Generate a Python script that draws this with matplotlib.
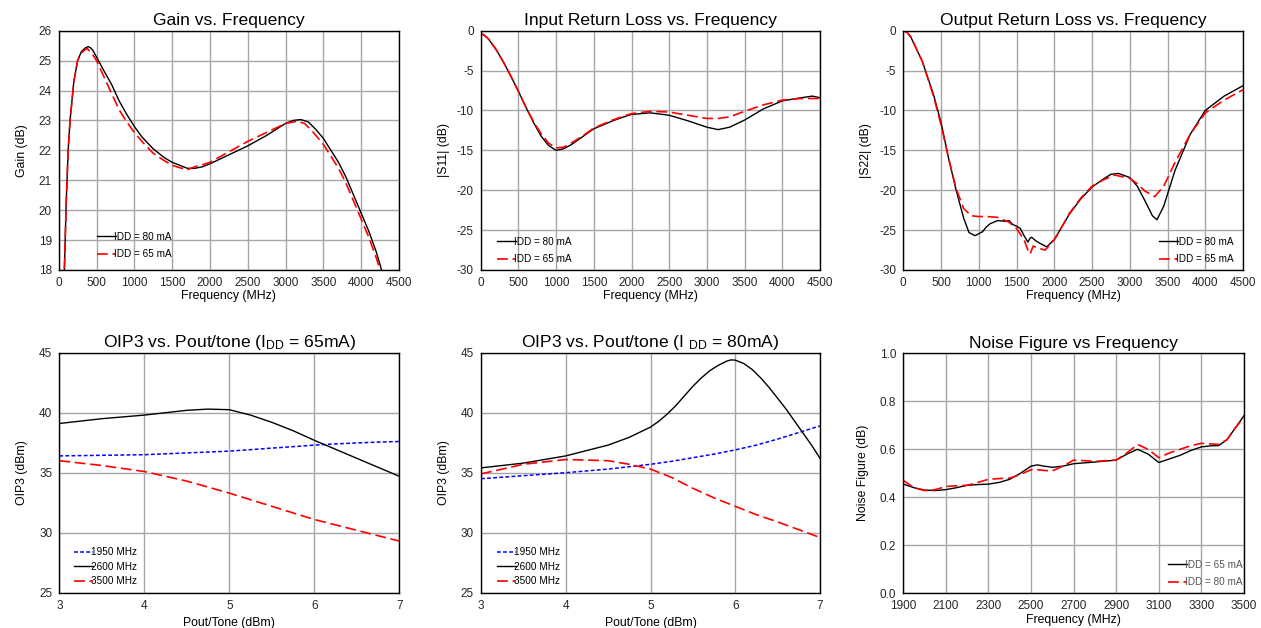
import matplotlib
matplotlib.use("Agg")
import matplotlib.pyplot as plt
import matplotlib.ticker as mticker

plt.rcParams['font.family'] = ['Liberation Sans', 'DejaVu Sans']
plt.rcParams['mathtext.fontset'] = 'custom'
plt.rcParams['mathtext.rm'] = 'Liberation Sans'
plt.rcParams['mathtext.it'] = 'Liberation Sans'
plt.rcParams['axes.unicode_minus'] = False

# ---------------- Gain ----------------
gain_f80 = [60, 75, 100, 125, 150, 200, 250, 300, 350, 392, 420, 450, 500, 600, 700, 800, 900, 1000, 1100, 1250,
            1400, 1500, 1600, 1700, 1800, 1900, 2000, 2250, 2500, 2750, 3000, 3100, 3200, 3300, 3400, 3500,
            3600, 3700, 3800, 3900, 4000, 4100, 4200, 4270, 4320]
gain_80 = [16.5, 18.0, 20.3, 22.0, 23.0, 24.3, 25.0, 25.3, 25.42, 25.47, 25.43, 25.35, 25.12, 24.65, 24.2, 23.65,
           23.2, 22.8, 22.45, 22.05, 21.75, 21.6, 21.5, 21.4, 21.4, 21.45, 21.55, 21.85, 22.15, 22.5, 22.9, 23.0,
           23.03, 22.95, 22.7, 22.4, 22.0, 21.6, 21.1, 20.5, 19.9, 19.3, 18.6, 18.0, 17.5]
gain_f65 = [60, 75, 100, 125, 150, 200, 250, 300, 350, 380, 450, 500, 600, 700, 800, 900, 1000, 1100, 1250,
            1400, 1500, 1600, 1700, 1800, 1900, 2000, 2250, 2500, 2750, 3000, 3150, 3250, 3350, 3500,
            3600, 3700, 3800, 3900, 4000, 4100, 4200, 4250, 4300]
gain_65 = [16.5, 18.0, 20.3, 22.0, 23.0, 24.3, 25.0, 25.25, 25.37, 25.4, 25.2, 25.0, 24.45, 23.9, 23.35, 22.95, 22.6,
           22.3, 21.9, 21.65, 21.5, 21.42, 21.35, 21.45, 21.52, 21.6, 21.95, 22.3, 22.6, 22.9, 22.97, 22.9, 22.65,
           22.2, 21.8, 21.4, 20.9, 20.3, 19.7, 19.1, 18.4, 18.0, 17.5]

# ---------------- Input return loss ----------------
s11_f = [0, 50, 100, 200, 300, 400, 500, 600, 700, 800, 900, 1000, 1100, 1200, 1350, 1500, 1650, 1750, 1900, 2000,
         2250, 2500, 2750, 3000, 3150, 3300, 3500, 3750, 4000, 4250, 4400, 4500]
s11_80 = [-0.3, -0.6, -1.0, -2.3, -3.9, -5.7, -7.6, -9.6, -11.5, -13.2, -14.4, -15.0, -14.8, -14.3, -13.3, -12.3,
          -11.7, -11.3, -10.8, -10.5, -10.3, -10.6, -11.3, -12.1, -12.4, -12.1, -11.2, -9.8, -8.8, -8.4, -8.2, -8.4]
s11_65 = [-0.3, -0.6, -1.0, -2.3, -3.9, -5.7, -7.6, -9.6, -11.4, -12.9, -14.1, -14.7, -14.6, -14.1, -13.2, -12.2,
          -11.6, -11.2, -10.7, -10.4, -10.1, -10.2, -10.6, -11.0, -11.0, -10.8, -10.1, -9.3, -8.7, -8.5, -8.5, -8.5]

# ---------------- Output return loss ----------------
s22_f80 = [0, 50, 100, 150, 250, 400, 500, 600, 700, 800, 870, 950, 1050, 1100, 1150, 1250, 1350, 1400, 1450, 1500,
           1550, 1600, 1650, 1680, 1700, 1750, 1800, 1900, 2000, 2100, 2200, 2350, 2500, 2650, 2750, 2850, 3000, 3100,
           3200, 3300, 3360, 3450, 3600, 3800, 4000, 4250, 4500]
s22_80 = [0, -0.2, -0.8, -1.8, -3.8, -8.0, -11.5, -16.0, -20.0, -23.5, -25.3, -25.7, -25.2, -24.6, -24.2, -23.8,
          -23.9, -23.8, -24.3, -24.5, -24.8, -25.7, -26.5, -26.0, -25.9, -26.3, -26.6, -27.1, -26.2, -24.6, -23.0,
          -21.1, -19.6, -18.6, -18.0, -17.9, -18.4, -19.5, -21.3, -23.2, -23.7, -22.0, -17.5, -13.0, -10.0, -8.2, -6.9]
s22_f65 = [0, 50, 100, 150, 250, 400, 500, 600, 700, 800, 900, 1000, 1100, 1250, 1400, 1500, 1550, 1600, 1650, 1680,
           1720, 1800, 1880, 2000, 2100, 2200, 2350, 2500, 2650, 2800, 3000, 3100, 3200, 3330, 3450, 3600, 3800, 4000,
           4250, 4500]
s22_65 = [0, -0.2, -0.8, -1.8, -3.8, -8.2, -11.8, -16.0, -19.8, -22.3, -23.2, -23.3, -23.3, -23.4, -24.0, -24.8,
          -25.5, -26.2, -27.5, -28.0, -27.0, -27.3, -27.5, -26.2, -24.6, -22.9, -21.0, -19.5, -18.7, -18.1, -18.5,
          -19.2, -20.1, -20.8, -19.5, -16.5, -13.0, -10.3, -8.7, -7.4]

# ---------------- OIP3 (IDD = 65 mA) ----------------
pout = [3.0, 3.5, 4.0, 4.5, 4.75, 5.0, 5.25, 5.5, 5.75, 6.0, 6.25, 6.5, 6.75, 7.0]
oip3_65_1950 = [36.4, 36.45, 36.5, 36.65, 36.72, 36.8, 36.92, 37.05, 37.17, 37.3, 37.4, 37.48, 37.55, 37.6]
oip3_65_2600 = [39.1, 39.5, 39.8, 40.2, 40.3, 40.25, 39.8, 39.2, 38.5, 37.7, 36.95, 36.2, 35.45, 34.7]
oip3_65_3500 = [36.0, 35.6, 35.1, 34.3, 33.8, 33.3, 32.75, 32.2, 31.65, 31.1, 30.65, 30.2, 29.75, 29.3]

# ---------------- OIP3 (IDD = 80 mA) ----------------
oip3_80_1950 = [34.5, 34.75, 35.0, 35.3, 35.5, 35.7, 35.95, 36.25, 36.55, 36.9, 37.3, 37.8, 38.35, 38.9]
oip3_80_3500 = [34.9, 35.7, 36.1, 36.0, 35.7, 35.3, 34.6, 33.7, 32.9, 32.2, 31.5, 30.9, 30.25, 29.6]
pout_2600_80 = [3.0, 3.5, 4.0, 4.5, 4.75, 5.0, 5.1, 5.2, 5.3, 5.4, 5.5, 5.6, 5.7, 5.8, 5.9, 5.95, 6.0, 6.1, 6.2,
                6.3, 6.4, 6.5, 6.6, 6.7, 6.8, 6.9, 7.0]
oip3_80_2600 = [35.4, 35.8, 36.4, 37.3, 37.95, 38.8, 39.3, 39.9, 40.6, 41.4, 42.2, 42.9, 43.5, 43.95, 44.3, 44.4,
                44.38, 44.1, 43.6, 42.9, 42.1, 41.2, 40.3, 39.3, 38.3, 37.3, 36.2]

# ---------------- Noise figure ----------------
nf_f = [1900, 1950, 2000, 2050, 2100, 2150, 2200, 2250, 2300, 2350, 2400, 2450, 2500, 2530, 2560, 2600, 2650, 2700,
        2800, 2900, 2950, 3000, 3050, 3100, 3150, 3200, 3250, 3300, 3350, 3380, 3420, 3460, 3500]
nf_65 = [0.455, 0.44, 0.43, 0.428, 0.432, 0.44, 0.45, 0.453, 0.455, 0.462, 0.475, 0.50, 0.53, 0.535, 0.53, 0.525,
         0.53, 0.54, 0.547, 0.555, 0.58, 0.60, 0.58, 0.545, 0.56, 0.575, 0.595, 0.61, 0.615, 0.615, 0.64, 0.69, 0.74]
nf_80 = [0.47, 0.44, 0.428, 0.432, 0.445, 0.448, 0.45, 0.462, 0.475, 0.478, 0.48, 0.495, 0.515, 0.515, 0.512, 0.51,
         0.53, 0.555, 0.55, 0.555, 0.585, 0.62, 0.60, 0.565, 0.585, 0.60, 0.615, 0.625, 0.622, 0.62, 0.64, 0.69, 0.735]

W, H = 1261, 628
fig = plt.figure(figsize=(W / 100, H / 100), dpi=100)

TFS = 12.6
LFS = 8.8
KFS = 8.5


def make_ax(l, r, t, b):
    ax = fig.add_axes([l / W, (H - b) / H, (r - l) / W, (b - t) / H])
    ax.grid(True, color='#a6a6a6', linewidth=1.0)
    ax.set_axisbelow(True)
    for s in ax.spines.values():
        s.set_color('black')
        s.set_linewidth(1.0)
    ax.tick_params(length=0, labelsize=KFS, pad=5, colors='#262626')
    return ax


BLK = dict(color='black', linewidth=1.0)
RED = dict(color='#ff0000', linewidth=1.2, dashes=(6.5, 2.8))
BLU = dict(color='#0000ff', linewidth=1.1, dashes=(2.5, 1.5))


def legend(ax, anchor, spacing=0.76, color='black'):
    lg = ax.legend(loc='upper left', bbox_to_anchor=anchor, frameon=False, fontsize=7.2, handlelength=1.9,
                   handletextpad=-0.15, labelspacing=spacing, borderaxespad=0)
    for t in lg.get_texts():
        t.set_color(color)


# Gain
ax1 = make_ax(58.7, 399, 30.7, 270)
ax1.plot(gain_f80, gain_80, label='IDD = 80 mA', **BLK)
ax1.plot(gain_f65, gain_65, label='IDD = 65 mA', **RED)
ax1.set_xlim(0, 4500)
ax1.set_ylim(18, 26)
ax1.set_xticks(range(0, 4501, 500))
ax1.set_yticks(range(18, 27))
ax1.set_title('Gain vs. Frequency', fontsize=TFS, pad=4)
ax1.set_xlabel('Frequency (MHz)', fontsize=LFS, labelpad=1)
ax1.set_ylabel('Gain (dB)', fontsize=LFS, labelpad=8)
legend(ax1, (0.1, 0.177))

# Input return loss
ax2 = make_ax(480.7, 820, 30.7, 270)
ax2.plot(s11_f, s11_80, label='IDD = 80 mA', **BLK)
ax2.plot(s11_f, s11_65, label='IDD = 65 mA', **RED)
ax2.set_xlim(0, 4500)
ax2.set_ylim(-30, 0)
ax2.set_xticks(range(0, 4501, 500))
ax2.set_yticks(range(-30, 1, 5))
ax2.set_title('Input Return Loss vs. Frequency', fontsize=TFS, pad=4)
ax2.set_xlabel('Frequency (MHz)', fontsize=LFS, labelpad=1)
ax2.set_ylabel('|S11| (dB)', fontsize=LFS, labelpad=5)
legend(ax2, (0.035, 0.156))

# Output return loss
ax3 = make_ax(903.3, 1243, 30.7, 270)
ax3.plot(s22_f80, s22_80, label='IDD = 80 mA', **BLK)
ax3.plot(s22_f65, s22_65, label='IDD = 65 mA', **RED)
ax3.set_xlim(0, 4500)
ax3.set_ylim(-30, 0)
ax3.set_xticks(range(0, 4501, 500))
ax3.set_yticks(range(-30, 1, 5))
ax3.set_title('Output Return Loss vs. Frequency', fontsize=TFS, pad=4)
ax3.set_xlabel('Frequency (MHz)', fontsize=LFS, labelpad=1)
ax3.set_ylabel('|S22| (dB)', fontsize=LFS, labelpad=5)
legend(ax3, (0.74, 0.156))

# OIP3 65 mA
ax4 = make_ax(59.3, 399.3, 352.7, 592.7)
ax4.plot(pout, oip3_65_1950, label='1950 MHz', **BLU)
ax4.plot(pout, oip3_65_2600, label='2600 MHz', **BLK)
ax4.plot(pout, oip3_65_3500, label='3500 MHz', **RED)
ax4.set_xlim(3, 7)
ax4.set_ylim(25, 45)
ax4.set_xticks(range(3, 8))
ax4.set_yticks(range(25, 46, 5))
ax4.set_title('OIP3 vs. Pout/tone (I$_{DD}$ = 65mA)', fontsize=TFS, pad=4)
ax4.set_xlabel('Pout/Tone (dBm)', fontsize=LFS, labelpad=4)
ax4.set_ylabel('OIP3 (dBm)', fontsize=LFS, labelpad=8)
legend(ax4, (0.03, 0.207), spacing=0.46)

# OIP3 80 mA
ax5 = make_ax(481, 820, 352.7, 592.7)
ax5.plot(pout, oip3_80_1950, label='1950 MHz', **BLU)
ax5.plot(pout_2600_80, oip3_80_2600, label='2600 MHz', **BLK)
ax5.plot(pout, oip3_80_3500, label='3500 MHz', **RED)
ax5.set_xlim(3, 7)
ax5.set_ylim(25, 45)
ax5.set_xticks(range(3, 8))
ax5.set_yticks(range(25, 46, 5))
ax5.set_title('OIP3 vs. Pout/tone (I $_{DD}$ = 80mA)', fontsize=TFS, pad=4)
ax5.set_xlabel('Pout/Tone (dBm)', fontsize=LFS, labelpad=4)
ax5.set_ylabel('OIP3 (dBm)', fontsize=LFS, labelpad=8)
legend(ax5, (0.035, 0.207), spacing=0.46)

# Noise figure
ax6 = make_ax(903.3, 1244, 353.3, 593.3)
ax6.plot(nf_f, nf_65, label='IDD = 65 mA', **BLK)
ax6.plot(nf_f, nf_80, label='IDD = 80 mA', **RED)
ax6.set_xlim(1900, 3500)
ax6.set_ylim(0, 1.0)
ax6.set_xticks(range(1900, 3501, 200))
ax6.set_yticks([0.0, 0.2, 0.4, 0.6, 0.8, 1.0])
ax6.yaxis.set_major_formatter(mticker.FormatStrFormatter('%.1f'))
ax6.set_title('Noise Figure vs Frequency', fontsize=TFS, pad=4)
ax6.set_xlabel('Frequency (MHz)', fontsize=LFS, labelpad=1)
ax6.set_ylabel('Noise Figure (dB)', fontsize=LFS, labelpad=8)
legend(ax6, (0.765, 0.156), color='#555555')

fig.savefig('out.png', dpi=100)
